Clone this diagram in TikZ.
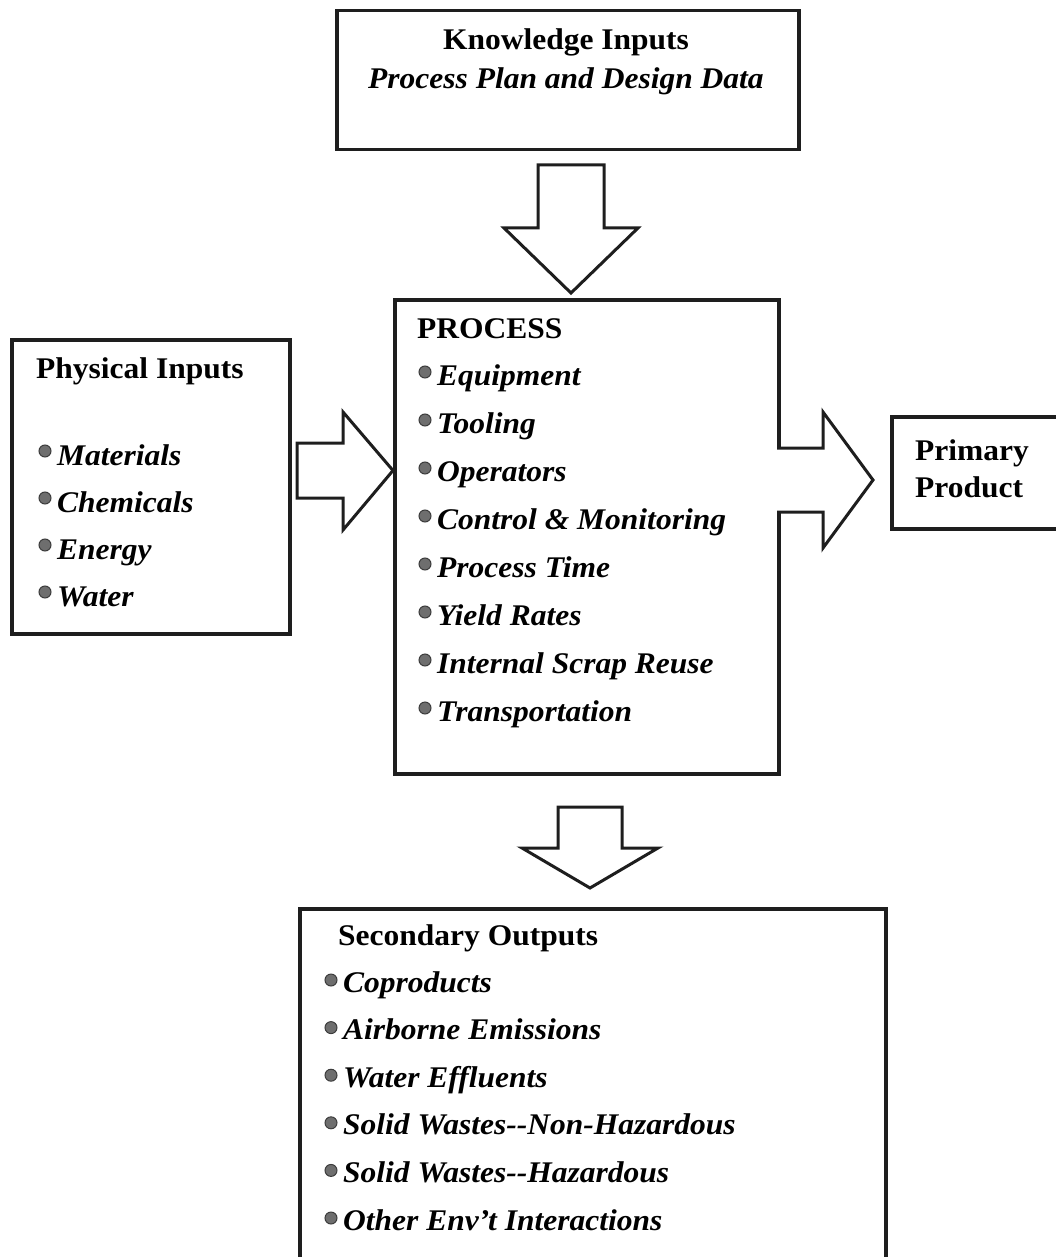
\documentclass[tikz,border=0pt]{standalone}
\usepackage{fontspec}
\setmainfont{Liberation Serif}[FakeStretch=1.05]
\usetikzlibrary{calc}
\definecolor{linec}{HTML}{1E1E1E}
\definecolor{bulc}{HTML}{6E6E6E}
\definecolor{bulrim}{HTML}{3C3C3C}
\begin{document}
\begin{tikzpicture}[x=1pt,y=-1pt,
  box/.style={draw=linec,line width=3.5pt,rectangle,inner sep=0pt,anchor=north west},
  blockarrow/.style={draw=linec,line width=3pt,fill=white,line join=miter},
  head/.style={inner sep=0pt,anchor=base west,font=\fontsize{30}{36}\selectfont\bfseries},
  headc/.style={inner sep=0pt,anchor=base,font=\fontsize{30}{36}\selectfont\bfseries},
  headci/.style={inner sep=0pt,anchor=base,font=\fontsize{30}{36}\selectfont\bfseries\itshape},
  item/.style={inner sep=0pt,anchor=base west,font=\fontsize{30}{36}\selectfont\bfseries\itshape},
  bul/.style={fill=bulc,draw=bulrim,line width=1pt}
]
\useasboundingbox (0,0) rectangle (1055,1257);

% boxes
\node[box,minimum width=462pt,minimum height=139pt] (know) at (335,9) {};
\node[box,minimum width=278pt,minimum height=294pt] (phys) at (10,338) {};
\node[box,minimum width=384pt,minimum height=474pt] (proc) at (393,298) {};
\node[box,minimum width=200pt,minimum height=112pt] (prim) at (890,415) {};
\node[box,minimum width=586pt,minimum height=380pt] (sec) at (298,907) {};

% knowledge text
\node[headc] (k1) at (566,50) {Knowledge Inputs};
\node[headci] (k2) at (566,89) {Process Plan and Design Data};

% physical inputs
\node[head] (p0) at (36,378) {Physical Inputs};
\foreach \t [count=\i] in {Materials,Chemicals,Energy,Water} {
  \filldraw[bul] (45,{451+47*(\i-1)}) circle (6);
  \node[item] (p\i) at (57,{465+47*(\i-1)}) {\t};
}

% process
\node[head] (r0) at (417,338) {PROCESS};
\foreach \t [count=\i] in {Equipment,Tooling,Operators,Control \& Monitoring,Process Time,Yield Rates,Internal Scrap Reuse,Transportation} {
  \filldraw[bul] (425,{372+48*(\i-1)}) circle (6);
  \node[item] (r\i) at (437,{385+48*(\i-1)}) {\t};
}

% primary product
\node[head] (m1) at (915,460) {Primary};
\node[head] (m2) at (915,497) {Product};

% secondary outputs
\node[head] (s0) at (338,945) {Secondary Outputs};
\foreach \t [count=\i] in {Coproducts,Airborne Emissions,Water Effluents,Solid Wastes-{}-Non-Hazardous,Solid Wastes-{}-Hazardous,Other Env’t Interactions} {
  \filldraw[bul] (331,{980+47.6*(\i-1)}) circle (6);
  \node[item] (s\i) at (343,{992+47.6*(\i-1)}) {\t};
}

% block arrows
% knowledge -> process
\draw[blockarrow] (538,165) -- (604,165) -- (604,228) -- (638,228) -- (571,293) -- (504,228) -- (538,228) -- cycle;
% physical -> process
\draw[blockarrow] (297,443) -- (343,443) -- (343,412) -- (393,470.5) -- (343,530) -- (343,498) -- (297,498) -- cycle;
% process -> primary
\draw[blockarrow] (777,448) -- (823,448) -- (823,412) -- (873,480) -- (823,548) -- (823,512) -- (777,512);
% process -> secondary
\draw[blockarrow] (558,807) -- (622,807) -- (622,848) -- (658,848) -- (590,888) -- (522,848) -- (558,848) -- cycle;
\end{tikzpicture}
\end{document}
